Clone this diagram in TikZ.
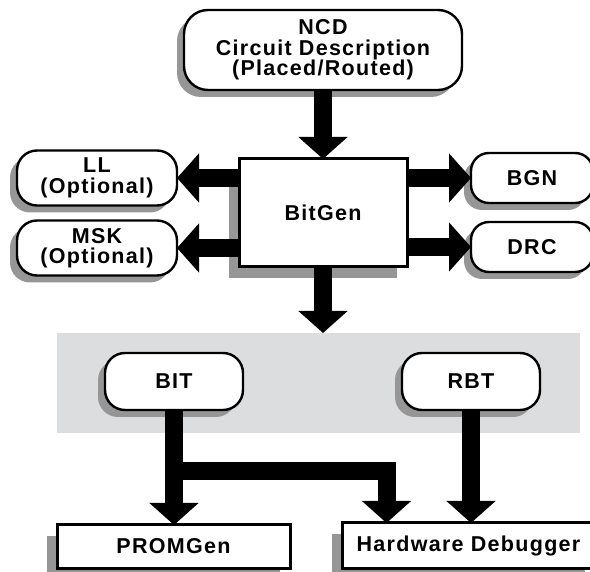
\documentclass[tikz,border=0pt]{standalone}
\usepackage{fontspec}
\newfontfamily\diafont{Liberation Sans}[LetterSpace=6]
\usetikzlibrary{positioning,arrows.meta,shadows}
\definecolor{bandgray}{RGB}{220,221,223}
\definecolor{shadowgray}{RGB}{150,150,150}

\begin{document}
\begin{tikzpicture}[x=1pt, y=-1pt,
  every node/.style={font=\diafont\bfseries\fontsize{21.5}{20.5}\selectfont, align=center, inner sep=0pt, outer sep=0pt},
  roundbox/.style={rectangle, draw, line width=2.4pt, fill=white, rounded corners=20pt,
    drop shadow={shadow xshift=-7pt, shadow yshift=-7pt, fill=shadowgray, opacity=1}},
  flatbox/.style={rectangle, draw, line width=3pt, fill=white,
    drop shadow={shadow xshift=-10pt, shadow yshift=-11pt, fill=shadowgray, opacity=1}},
  fatarrow/.style={line width=18pt, line join=miter, -{Triangle[width=48pt, length=22pt]}}]
  \useasboundingbox (0,0) rectangle (590,572);

  \node[roundbox, minimum width=278pt, minimum height=80pt, rounded corners=24pt] (ncd) at (323,50) {NCD\\Circuit Description\\(Placed/Routed)};
  \node[flatbox, minimum width=168pt, minimum height=108pt, below=69pt of ncd] (bitgen) {BitGen};
  \node[roundbox, minimum width=160pt, minimum height=55pt] (ll) at (97,178) {LL\\(Optional)};
  \node[roundbox, minimum width=160pt, minimum height=55pt, below=15pt of ll] (msk) {MSK\\(Optional)};
  \node[roundbox, minimum width=122pt, minimum height=50pt, rounded corners=18pt] (bgn) at (532,178) {BGN};
  \node[roundbox, minimum width=122pt, minimum height=50pt, rounded corners=18pt, below=19pt of bgn] (drc) {DRC};

  \node[fill=bandgray, minimum width=523pt, minimum height=100pt] (band) at (318.5,383) {};
  \node[roundbox, minimum width=138pt, minimum height=57pt] (bit) at (174,381.5) {BIT};
  \node[roundbox, minimum width=138pt, minimum height=57pt, right=159pt of bit] (rbt) {RBT};
  \node[flatbox, minimum width=233pt, minimum height=43pt] (promgen) at (173.5,546.5) {PROMGen};
  \node[flatbox, minimum width=253pt, minimum height=45pt] (hwd) at (468.5,545.5) {Hardware Debugger};

  \draw[fatarrow] (ncd.south) -- (bitgen.north);
  \draw[fatarrow] (bitgen.west |- ll.east) -- (ll.east);
  \draw[fatarrow] (bitgen.west |- msk.east) -- (msk.east);
  \draw[fatarrow] (bitgen.east |- bgn.west) -- (bgn.west);
  \draw[fatarrow] (bitgen.east |- drc.west) -- (drc.west);
  \draw[fatarrow] (bitgen.south) -- (bitgen.south |- band.north);
  \draw[fatarrow] (bit.south) -- (bit.south |- promgen.north);
  \draw[fatarrow] ([yshift=-61pt]bit.south) -| ([xshift=-82pt]hwd.north);
  \draw[fatarrow] (rbt.south) -- (rbt.south |- hwd.north);
\end{tikzpicture}
\end{document}
